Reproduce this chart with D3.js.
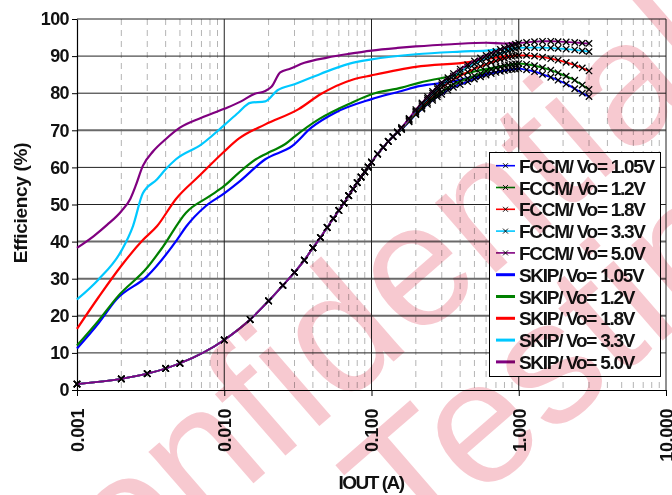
<!DOCTYPE html>
<html>
<head>
<meta charset="utf-8">
<script src="https://cdn.jsdelivr.net/npm/d3@7"></script>
<style>
  html, body { margin: 0; padding: 0; background: #fff; }
  svg text { font-family: "Liberation Sans", Arial, sans-serif; font-weight: bold; }
</style>
</head>
<body>
<div id="chart"></div>
<script>
// Efficiency vs output current, FCCM and SKIP modes

// Axis ticks
const xTicks = [0.001, 0.01, 0.1, 1, 10];
const xTickLabels = ["0.001", "0.010", "0.100", "1.000", "10.000"];
const yTicks = [0, 10, 20, 30, 40, 50, 60, 70, 80, 90, 100];

// SKIP mode curves (current A, efficiency %)
const skipI105 = [0.001, 0.0014, 0.00185, 0.003, 0.0048, 0.0055, 0.0075, 0.01, 0.0126, 0.019, 0.029, 0.039, 0.057, 0.1, 0.16, 0.21, 0.35, 0.6, 1.0];
const skipE105 = [11.2, 18, 24.4, 30.7, 40.6, 44, 49.6, 53, 56.1, 62.2, 65.8, 70.7, 74.8, 78.4, 80.6, 81.9, 83.1, 85.2, 86.6];
const skipI12 = [0.001, 0.0014, 0.0019, 0.003, 0.0038, 0.0055, 0.008, 0.01, 0.0126, 0.0164, 0.021, 0.026, 0.03, 0.044, 0.074, 0.1, 0.16, 0.21, 0.35, 0.6, 1.0];
const skipE12 = [12, 18.7, 25.3, 33, 38.4, 47.8, 52.3, 55, 58.6, 62.2, 64.4, 66.3, 68.3, 73, 77.5, 79.7, 81.5, 82.8, 84.6, 86.5, 88];
const skipI18 = [0.001, 0.0014, 0.002, 0.0028, 0.0035, 0.0047, 0.0068, 0.01, 0.0126, 0.019, 0.032, 0.045, 0.075, 0.1, 0.2, 0.46, 0.75, 1.0];
const skipE18 = [16.5, 25, 33.5, 40.4, 44.2, 51.5, 57.8, 64.3, 67.8, 71.6, 75.7, 79.7, 83.7, 84.8, 87.1, 88.4, 89.8, 90.2];
const skipI33 = [0.001, 0.0014, 0.002, 0.0024, 0.0028, 0.0035, 0.004, 0.0047, 0.007, 0.01, 0.0125, 0.015, 0.019, 0.023, 0.03, 0.045, 0.07, 0.1, 0.2, 0.4, 0.6, 1.0];
const skipE33 = [24.4, 29.8, 37.5, 44.2, 53, 56.8, 59.5, 62.2, 66.2, 71.4, 74.8, 77.4, 77.8, 80.8, 82.4, 85.2, 87.9, 89.1, 90.5, 91.2, 91.5, 92.2];
const skipI50 = [0.001, 0.0013, 0.0016, 0.002, 0.0023, 0.0025, 0.0028, 0.0033, 0.004, 0.005, 0.007, 0.01, 0.013, 0.016, 0.019, 0.021, 0.024, 0.028, 0.035, 0.05, 0.07, 0.1, 0.15, 0.2, 0.35, 0.6, 0.8, 1.0];
const skipE50 = [38.3, 41.5, 44.5, 48.2, 51.5, 55, 60.4, 64.4, 67.6, 70.7, 73.4, 75.8, 77.8, 79.8, 80.6, 81.8, 85.6, 86.6, 88.2, 89.6, 90.6, 91.5, 92.2, 92.6, 93.2, 93.6, 93.4, 93.5];

// FCCM mode: the five curves lie on top of each other below 0.16 A
const fccmLowI = [0.001, 0.002, 0.003, 0.004, 0.005, 0.01, 0.015, 0.02, 0.025, 0.03, 0.035, 0.04, 0.045, 0.05, 0.055, 0.06, 0.065, 0.07, 0.075, 0.08, 0.085, 0.09, 0.095, 0.1, 0.11, 0.12, 0.13, 0.14, 0.15];
const fccmLowE = [1.6, 3.0, 4.4, 5.8, 7.2, 13.5, 19, 24, 28.2, 31.7, 35, 38.3, 41.1, 43.8, 46.2, 48.4, 50.4, 52.4, 54.2, 55.9, 57.4, 58.8, 60.1, 61.4, 63.6, 65.4, 67, 68.3, 69.5];
const fccmHighI = [0.16, 0.18, 0.2, 0.22, 0.24, 0.26, 0.28, 0.3, 0.33, 0.36, 0.4, 0.45, 0.5, 0.55, 0.6, 0.65, 0.7, 0.75, 0.8, 0.85, 0.9, 0.95, 1.0, 1.13, 1.28, 1.45, 1.65, 1.85, 2.1, 2.4, 2.7, 3.0];
const fccmE105 = [70.2, 72.3, 74.2, 75.7, 77.0, 78.1, 79.0, 79.7, 80.8, 81.6, 82.3, 83.1, 83.8, 84.4, 84.9, 85.3, 85.6, 85.9, 86.1, 86.3, 86.4, 86.5, 86.6, 86.3, 85.8, 85.1, 84.3, 83.5, 82.5, 81.2, 80.0, 79.1];
const fccmE12 = [70.3, 72.5, 74.5, 76.1, 77.5, 78.6, 79.6, 80.4, 81.5, 82.4, 83.2, 84.0, 84.7, 85.3, 85.9, 86.4, 86.8, 87.1, 87.4, 87.6, 87.8, 87.9, 88.0, 87.8, 87.4, 86.9, 86.2, 85.5, 84.6, 83.5, 82.2, 81.0];
const fccmE18 = [70.5, 72.8, 74.9, 76.6, 78.1, 79.4, 80.5, 81.5, 82.7, 83.7, 84.7, 85.7, 86.6, 87.2, 87.8, 88.3, 88.7, 89.1, 89.4, 89.7, 89.9, 90.1, 90.2, 90.2, 90.0, 89.7, 89.3, 88.9, 88.3, 87.6, 86.8, 86.0];
const fccmE33 = [70.6, 73.0, 75.2, 77.0, 78.6, 80.0, 81.2, 82.3, 83.5, 84.6, 85.8, 87.0, 87.9, 88.7, 89.3, 89.8, 90.3, 90.7, 91.1, 91.4, 91.7, 92.0, 92.2, 92.3, 92.3, 92.3, 92.2, 92.1, 91.9, 91.7, 91.4, 91.2];
const fccmE50 = [70.8, 73.2, 75.6, 77.4, 79.1, 80.5, 81.8, 82.9, 84.2, 85.3, 86.5, 87.7, 88.7, 89.5, 90.2, 90.8, 91.3, 91.8, 92.2, 92.6, 92.9, 93.2, 93.5, 93.7, 93.9, 94.0, 94.0, 93.9, 93.8, 93.7, 93.5, 93.4];

const voltages = ["1.05V", "1.2V", "1.8V", "3.3V", "5.0V"];
const colors = ["#0000ff", "#008000", "#ff0000", "#00c8ff", "#800080"];
const skipI = [skipI105, skipI12, skipI18, skipI33, skipI50];
const skipE = [skipE105, skipE12, skipE18, skipE33, skipE50];
const fccmE = [fccmE105, fccmE12, fccmE18, fccmE33, fccmE50];

// grid lines the source renders heavier and grey
const heavyGrid = [20, 30, 40, 70];

const W = 672, H = 495;
const plotL = 77, plotR = 666, plotT = 19, plotB = 390;

const svg = d3.select("#chart").append("svg")
    .attr("width", W)
    .attr("height", H);

const x = d3.scaleLog().domain([0.001, 10]).range([plotL, plotR]);
const y = d3.scaleLinear().domain([0, 100]).range([plotB, plotT]);

// minor vertical grid (dashed)
svg.append("g")
    .selectAll("line")
    .data(x.ticks().filter(v => !xTicks.some(t => Math.abs(t - v) / t < 1e-6)))
    .join("line")
    .attr("x1", d => x(d)).attr("x2", d => x(d))
    .attr("y1", plotT).attr("y2", plotB)
    .attr("stroke", "#b4b4b4")
    .attr("stroke-width", 1)
    .attr("stroke-dasharray", "6,5");

// horizontal grid
svg.append("g")
    .selectAll("line")
    .data(yTicks.slice(1))
    .join("line")
    .attr("x1", plotL).attr("x2", plotR)
    .attr("y1", d => y(d)).attr("y2", d => y(d))
    .attr("stroke", d => heavyGrid.includes(d) ? "#6a6a6a" : "#222")
    .attr("stroke-width", d => heavyGrid.includes(d) ? 2 : 1);

// decade verticals
svg.append("g")
    .selectAll("line")
    .data(xTicks.slice(1))
    .join("line")
    .attr("x1", d => x(d)).attr("x2", d => x(d))
    .attr("y1", plotT).attr("y2", plotB)
    .attr("stroke", "#222")
    .attr("stroke-width", 1);

// axes
const yAxis = svg.append("g")
    .attr("transform", `translate(${plotL},0)`)
    .call(d3.axisLeft(y).tickValues(yTicks).tickSize(5).tickSizeOuter(0).tickPadding(3));
yAxis.selectAll("text")
    .attr("font-size", 18)
    .attr("letter-spacing", "-0.6")
    .attr("fill", "#111");

const xAxis = svg.append("g")
    .attr("transform", `translate(0,${plotB})`)
    .call(d3.axisBottom(x).tickValues(xTicks).tickFormat((d, i) => xTickLabels[i]).tickSize(6).tickSizeOuter(0));
xAxis.selectAll("text")
    .attr("font-size", 18)
    .attr("letter-spacing", "-0.4")
    .attr("fill", "#111")
    .attr("transform", "rotate(-90)")
    .attr("text-anchor", "end")
    .attr("x", -19)
    .attr("y", 0)
    .attr("dy", "0.36em");

[yAxis, xAxis].forEach(a => {
    a.select(".domain").attr("stroke", "#000").attr("stroke-width", 1.2);
    a.selectAll(".tick line").attr("stroke", "#000");
});

// SKIP curves
const line = d3.line()
    .x(d => x(d[0]))
    .y(d => y(d[1]))
    .curve(d3.curveMonotoneX);

skipI.forEach((arr, k) => {
    svg.append("path")
        .datum(arr.map((v, i) => [v, skipE[k][i]]))
        .attr("d", line)
        .attr("fill", "none")
        .attr("stroke", colors[k])
        .attr("stroke-width", 2.2);
});

// FCCM curves with markers
const cross = d3.symbol().type(d3.symbolX).size(28);
fccmE.forEach((arr, k) => {
    const pts = fccmLowI.map((v, i) => [v, fccmLowE[i]])
        .concat(fccmHighI.map((v, i) => [v, arr[i]]));
    svg.append("path")
        .datum(pts)
        .attr("d", line)
        .attr("fill", "none")
        .attr("stroke", colors[k])
        .attr("stroke-width", 1.8);
    svg.append("g")
        .selectAll("path")
        .data(pts)
        .join("path")
        .attr("d", cross)
        .attr("transform", d => `translate(${x(d[0])},${y(d[1])})`)
        .attr("fill", "none")
        .attr("stroke", "#000")
        .attr("stroke-width", 1.3);
});

// axis titles
svg.append("text")
    .attr("transform", "translate(27,203) rotate(-90)")
    .attr("text-anchor", "middle")
    .attr("font-size", 19)
    .attr("letter-spacing", "-0.3")
    .attr("fill", "#111")
    .text("Efficiency (%)");

svg.append("text")
    .attr("x", 371).attr("y", 489)
    .attr("text-anchor", "middle")
    .attr("font-size", 19)
    .attr("letter-spacing", "-1.5")
    .attr("fill", "#111")
    .text("IOUT (A)");

// legend
const legend = svg.append("g");
legend.append("rect")
    .attr("x", 489.5).attr("y", 152.5)
    .attr("width", 171).attr("height", 224)
    .attr("fill", "#fff")
    .attr("stroke", "#000")
    .attr("stroke-width", 1);

const legendItems = voltages.map((v, k) => ({ label: `FCCM/ Vo= ${v}`, color: colors[k], mark: true }))
    .concat(voltages.map((v, k) => ({ label: `SKIP/ Vo= ${v}`, color: colors[k], mark: false })));

legendItems.forEach((d, i) => {
    const cy = 165.7 + i * 21.8;
    legend.append("line")
        .attr("x1", 496).attr("x2", 515)
        .attr("y1", cy).attr("y2", cy)
        .attr("stroke", d.color)
        .attr("stroke-width", d.mark ? 1.6 : 3);
    if (d.mark) {
        legend.append("path")
            .attr("d", d3.symbol().type(d3.symbolX).size(18)())
            .attr("transform", `translate(505.5,${cy})`)
            .attr("fill", "none")
            .attr("stroke", "#000")
            .attr("stroke-width", 0.9);
    }
    legend.append("text")
        .attr("x", 519).attr("y", cy + 7)
        .attr("font-size", 19)
        .attr("letter-spacing", "-1.3")
        .attr("fill", "#111")
        .text(d.label);
});

// watermark of the source document
const mark = svg.append("g")
    .style("mix-blend-mode", "multiply")
    .attr("fill", "#f7c9d0");
mark.append("text")
    .attr("transform", "translate(729,70) rotate(-41)")
    .attr("text-anchor", "end")
    .attr("font-size", 175)
    .style("font-weight", "normal")
    .text("Confidential");
mark.append("text")
    .attr("transform", "translate(830,195) rotate(-41)")
    .attr("text-anchor", "end")
    .attr("font-size", 175)
    .style("font-weight", "normal")
    .text("for Testing");
</script>
</body>
</html>
